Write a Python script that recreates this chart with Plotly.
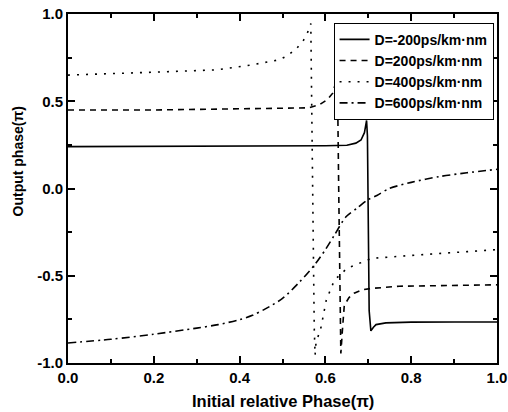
import plotly.graph_objects as go

# D = -200 ps/km·nm (solid)
x_m200 = [0.0, 0.2, 0.4, 0.5, 0.6, 0.65, 0.671, 0.683, 0.691, 0.696, 0.698, 0.702, 0.706, 0.712, 0.718, 0.741, 0.8, 0.9, 1.0]
y_m200 = [0.240, 0.241, 0.242, 0.243, 0.245, 0.248, 0.26, 0.278, 0.32, 0.39, 0.30, -0.70, -0.816, -0.795, -0.78, -0.77, -0.766, -0.765, -0.765]

# D = 200 ps/km·nm (dashed)
x_200 = [0.0, 0.2, 0.35, 0.5, 0.56, 0.586, 0.605, 0.617, 0.624, 0.628, 0.631, 0.634, 0.636, 0.640, 0.644, 0.655, 0.667, 0.687, 0.706, 0.772, 0.9, 1.0]
y_200 = [0.450, 0.450, 0.455, 0.460, 0.462, 0.48, 0.51, 0.546, 0.60, 0.64, 0.0, -0.7, -0.945, -0.80, -0.67, -0.625, -0.60, -0.58, -0.573, -0.56, -0.555, -0.552]

# D = 400 ps/km·nm (dotted)
x_400 = [0.0, 0.1, 0.206, 0.346, 0.43, 0.493, 0.512, 0.532, 0.549, 0.559, 0.566, 0.568, 0.571, 0.574, 0.576, 0.578, 0.59, 0.602, 0.621, 0.651, 0.709, 0.772, 0.85, 0.93, 1.0]
y_400 = [0.650, 0.657, 0.667, 0.68, 0.709, 0.738, 0.762, 0.80, 0.85, 0.897, 0.945, 0.5, -0.3, -0.8, -0.955, -0.887, -0.793, -0.64, -0.525, -0.456, -0.40, -0.387, -0.375, -0.362, -0.35]

# D = 600 ps/km·nm (dash-dot)
x_600 = [0.0, 0.1, 0.2, 0.3, 0.35, 0.4, 0.43, 0.46, 0.5, 0.54, 0.574, 0.6, 0.621, 0.648, 0.675, 0.698, 0.72, 0.749, 0.8, 0.865, 0.93, 1.0]
y_600 = [-0.885, -0.864, -0.835, -0.80, -0.78, -0.752, -0.727, -0.69, -0.63, -0.535, -0.44, -0.35, -0.267, -0.162, -0.11, -0.066, -0.04, 0.0, 0.035, 0.068, 0.09, 0.11]

names = ["D=-200ps/km·nm", "D=200ps/km·nm", "D=400ps/km·nm", "D=600ps/km·nm"]
dashes = ["solid", "6px,5px", "2px,7px", "8px,4px,2px,4px"]
shapes_ = ["linear", "linear", "linear", "spline"]

x_ticks = [0.0, 0.2, 0.4, 0.6, 0.8, 1.0]
x_ticktext = ["0.0", "0.2", "0.4", "0.6", "0.8", "1.0"]
y_ticks = [-1.0, -0.5, 0.0, 0.5, 1.0]
y_ticktext = ["-1.0", "-0.5", "0.0", "0.5", "1.0"]

x_title = "Initial relative Phase(π)"
y_title = "Output phase(π)"

fig = go.Figure()
for xs, ys, nm, ds, sh in zip([x_m200, x_200, x_400, x_600], [y_m200, y_200, y_400, y_600], names, dashes, shapes_):
    fig.add_trace(go.Scatter(x=xs, y=ys, mode="lines", name=nm,
                             line=dict(color="black", width=1.6, dash=ds, shape=sh, smoothing=0.8)))

font_fam = "Liberation Sans, Arial, sans-serif"
fig.update_layout(
    width=508, height=412,
    margin=dict(l=68, r=10.5, t=14.3, b=49.3, pad=0),
    paper_bgcolor="white", plot_bgcolor="white",
    font=dict(family=font_fam, color="black"),
    legend=dict(x=0.619, y=0.975, xanchor="left", yanchor="top",
                bgcolor="white", bordercolor="black", borderwidth=1,
                font=dict(family=font_fam, size=14, weight="bold", color="black"),
                tracegroupgap=0, itemwidth=30),
    xaxis=dict(range=[0, 1], tickvals=x_ticks, ticktext=x_ticktext, automargin=False,
               ticks="inside", ticklen=7, tickwidth=1.5, tickcolor="black",
               minor=dict(dtick=0.1, tick0=0, ticks="inside", ticklen=4, tickwidth=1.5, tickcolor="black"),
               showline=True, linewidth=2, linecolor="black", mirror="ticks",
               showgrid=False, zeroline=False,
               tickfont=dict(family=font_fam, size=15, weight="bold")),
    yaxis=dict(range=[-1, 1], tickvals=y_ticks, ticktext=y_ticktext, automargin=False,
               ticks="inside", ticklen=7, tickwidth=1.5, tickcolor="black",
               minor=dict(dtick=0.25, tick0=0, ticks="inside", ticklen=4, tickwidth=1.5, tickcolor="black"),
               showline=True, linewidth=2, linecolor="black", mirror="ticks",
               showgrid=False, zeroline=False,
               tickfont=dict(family=font_fam, size=15, weight="bold")),
    annotations=[
        dict(text=x_title, xref="paper", yref="paper", x=0.5, y=0, yshift=-38.3,
             xanchor="center", yanchor="middle", showarrow=False,
             font=dict(family=font_fam, size=16.5, weight="bold", color="black")),
        dict(text=y_title, xref="paper", yref="paper", x=0, y=0.576, xshift=-50.5,
             xanchor="center", yanchor="middle", textangle=-90, showarrow=False,
             font=dict(family=font_fam, size=14, weight="bold", color="black")),
    ],
)

fig.write_html("out.html", config={"displayModeBar": False},
               post_script="document.body.style.margin='0';document.body.style.padding='0';document.body.style.overflow='hidden';")
